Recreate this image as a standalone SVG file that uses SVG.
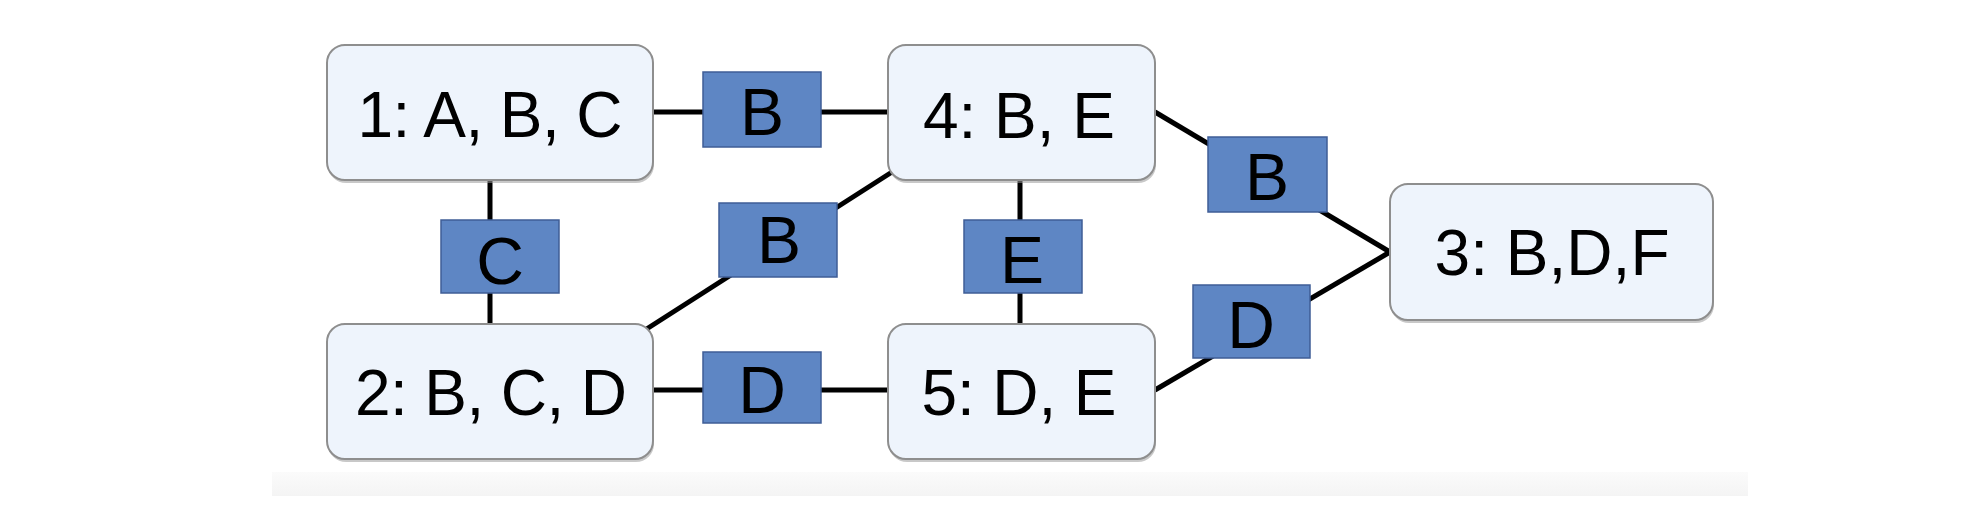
<svg xmlns="http://www.w3.org/2000/svg" width="1972" height="506" viewBox="0 0 1972 506">
  <defs>
    <linearGradient id="band" x1="0" y1="0" x2="0" y2="1">
      <stop offset="0" stop-color="#fbfbfb"/>
      <stop offset="1" stop-color="#f4f4f4"/>
    </linearGradient>
    <style>
      .node { fill: #eef4fc; stroke: #8e8e8e; stroke-width: 2; }
      .shadow { fill: #9a9a9a; opacity: 0.55; }
      .sep { fill: #5e86c4; stroke: #3f5d96; stroke-width: 1.5; }
      .edge { stroke: #000; stroke-width: 5; fill: none; }
      .lbl { font-family: "Liberation Sans", Arial, sans-serif; font-size: 64px; fill: #000; text-anchor: middle; }
      .slbl { font-family: "Liberation Sans", Arial, sans-serif; font-size: 66px; fill: #000; text-anchor: middle; }
    </style>
  </defs>
  <rect width="1972" height="506" fill="#ffffff"/>
  <rect x="272" y="472" width="1476" height="24" fill="url(#band)"/>

  <g id="connectors">
    <line class="edge" x1="653" y1="112" x2="888" y2="112"/>
    <line class="edge" x1="490" y1="180" x2="490" y2="324"/>
    <line class="edge" x1="653" y1="390" x2="888" y2="390"/>
    <line class="edge" x1="1020" y1="180" x2="1020" y2="324"/>
    <line class="edge" x1="645" y1="330" x2="892" y2="172"/>
    <line class="edge" x1="1155" y1="112" x2="1390" y2="252"/>
    <line class="edge" x1="1155" y1="390" x2="1390" y2="252"/>
  </g>

  <g id="node1">
    <rect class="shadow" x="328" y="48" width="326" height="135" rx="18"/>
    <rect class="node" x="327" y="45" width="326" height="135" rx="18"/>
    <text class="lbl" x="490" y="137" textLength="265" lengthAdjust="spacing">1: A, B, C</text>
  </g>
  <g id="node4">
    <rect class="shadow" x="889" y="48" width="267" height="135" rx="18"/>
    <rect class="node" x="888" y="45" width="267" height="135" rx="18"/>
    <text class="lbl" x="1019" y="138" textLength="192" lengthAdjust="spacing">4: B, E</text>
  </g>
  <g id="node2">
    <rect class="shadow" x="328" y="327" width="326" height="135" rx="18"/>
    <rect class="node" x="327" y="324" width="326" height="135" rx="18"/>
    <text class="lbl" x="491" y="415" textLength="272" lengthAdjust="spacing">2: B, C, D</text>
  </g>
  <g id="node5">
    <rect class="shadow" x="889" y="327" width="267" height="135" rx="18"/>
    <rect class="node" x="888" y="324" width="267" height="135" rx="18"/>
    <text class="lbl" x="1019" y="415" textLength="195" lengthAdjust="spacing">5: D, E</text>
  </g>
  <g id="node3">
    <rect class="shadow" x="1391" y="187" width="323" height="136" rx="18"/>
    <rect class="node" x="1390" y="184" width="323" height="136" rx="18"/>
    <text class="lbl" x="1552" y="275" textLength="235" lengthAdjust="spacing">3: B,D,F</text>
  </g>

  <g id="sep-1-4">
    <rect class="sep" x="703" y="72" width="118" height="75"/>
    <text class="slbl" x="762" y="135">B</text>
  </g>
  <g id="sep-1-2">
    <rect class="sep" x="441" y="220" width="118" height="73"/>
    <text class="slbl" x="500" y="284">C</text>
  </g>
  <g id="sep-2-4">
    <rect class="sep" x="719" y="203" width="118" height="74"/>
    <text class="slbl" x="779" y="263">B</text>
  </g>
  <g id="sep-4-5">
    <rect class="sep" x="964" y="220" width="118" height="73"/>
    <text class="slbl" x="1022" y="283">E</text>
  </g>
  <g id="sep-2-5">
    <rect class="sep" x="703" y="352" width="118" height="71"/>
    <text class="slbl" x="762" y="413">D</text>
  </g>
  <g id="sep-4-3">
    <rect class="sep" x="1208" y="137" width="119" height="75"/>
    <text class="slbl" x="1267" y="200">B</text>
  </g>
  <g id="sep-5-3">
    <rect class="sep" x="1193" y="285" width="117" height="73"/>
    <text class="slbl" x="1251" y="348">D</text>
  </g>
</svg>
